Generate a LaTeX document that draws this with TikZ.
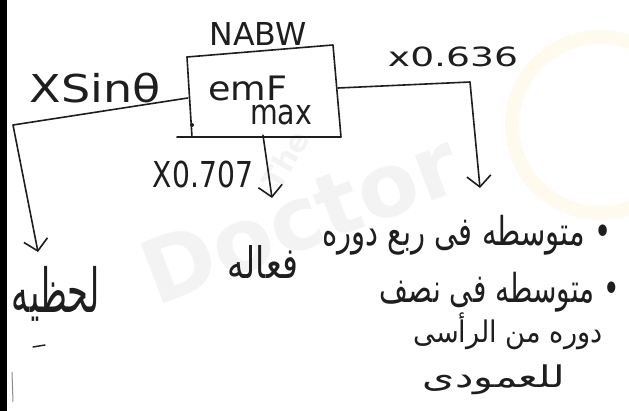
\documentclass[tikz,border=0pt]{standalone}
\usepackage{fontspec}
\usepackage{graphicx}
\setmainfont{DejaVu Sans}
\newfontfamily\arabicfont[Script=Arabic]{DejaVu Sans}
\TeXXeTstate=1
\usetikzlibrary{arrows.meta}
\newcommand{\fitbox}[3]{\resizebox*{#1pt}{#2pt}{#3}}
\definecolor{ink}{HTML}{1E1E1E}
\definecolor{wmgray}{RGB}{243,243,243}
\definecolor{wmyellow}{RGB}{254,250,238}
\tikzset{
  lbl/.style={inner sep=0pt, text=ink},
  conn/.style={draw=ink, line width=1.6pt, line cap=round, line join=round,
    -{Straight Barb[length=11pt,width=24pt]}},
  edgeline/.style={draw=ink, line width=1.6pt, line cap=round, line join=round},
  wmark/.style={text=wmgray, font=\fontsize{88}{88}\selectfont\bfseries},
}
\begin{document}
\begin{tikzpicture}[x=1pt,y=-1pt]
\fill[white] (0,0) rectangle (629,411);
\useasboundingbox (0,0) rectangle (629,411);
% faint watermark
\draw[wmyellow, line width=14pt] (600,125) circle (88);
\node[wmark, rotate=21] (wm) at (300,218) {Doctor};
\node[wmark, rotate=60, font=\fontsize{30}{30}\selectfont\bfseries] (wm2) at (285,160) {The};
% scan border
\fill[black] (0,0) rectangle (7,411);
\draw[black!45, line width=1pt] (12,372) -- (13,402);
% box
\node[minimum width=150pt, minimum height=86pt, inner sep=0pt] (box) at (263,92) {};
\draw[edgeline] (187,57) -- (333,45) -- (341,137) -- (177,137);
\draw[edgeline] (187,57) -- (192,137);
\fill[ink] (192,125) circle (2pt);
% labels
\node[lbl] (nabw) at (258,34) {\fitbox{97}{23}{NABW}};
\node[lbl] (emf) at (248,88) {\fitbox{79}{25}{emF}};
\node[lbl] (max) at (281,115) {\fitbox{62}{20}{max}};
\node[lbl] (xsin) at (95,88) {\fitbox{131}{30}{XSinθ}};
\node[lbl] (x636) at (453,57) {\fitbox{130}{20}{x0.636}};
\node[lbl] (x707) at (203,175) {\fitbox{100}{27}{X0.707}};
\node[lbl] (lahzi) at (56,294) {\fitbox{88}{55}{\arabicfont\beginR لحظيه\endR}};
\node[lbl] (faal) at (263,262) {\fitbox{70}{33}{\arabicfont\beginR فعاله\endR}};
\node[lbl] (l1) at (467,235) {\fitbox{289}{40}{\arabicfont\beginR • متوسطه فى ربع دوره\endR}};
\node[lbl] (l2) at (500,292) {\fitbox{240}{40}{\arabicfont\beginR • متوسطه فى نصف\endR}};
\node[lbl] (l3) at (508,331) {\fitbox{189}{37}{\arabicfont\beginR دوره من الرأسى\endR}};
\node[lbl] (l4) at (494,380) {\fitbox{142}{30}{\arabicfont\beginR للعمودى\endR}};
\draw[edgeline, line width=1.4pt] (33,347) -- (45,345);
% connectors
\coordinate (lc) at (13,125);
\coordinate (lt) at (38,252);
\coordinate (mt) at (272,198);
\coordinate (rc) at (470,82);
\coordinate (rt) at (480,188);
\draw[conn] ([yshift=-6pt]box.west) -- (lc) -- (lt);
\draw[conn] (box.south) -- (mt);
\draw[conn] ([yshift=4pt]box.east) -- (rc) -- (rt);
\end{tikzpicture}
\end{document}
